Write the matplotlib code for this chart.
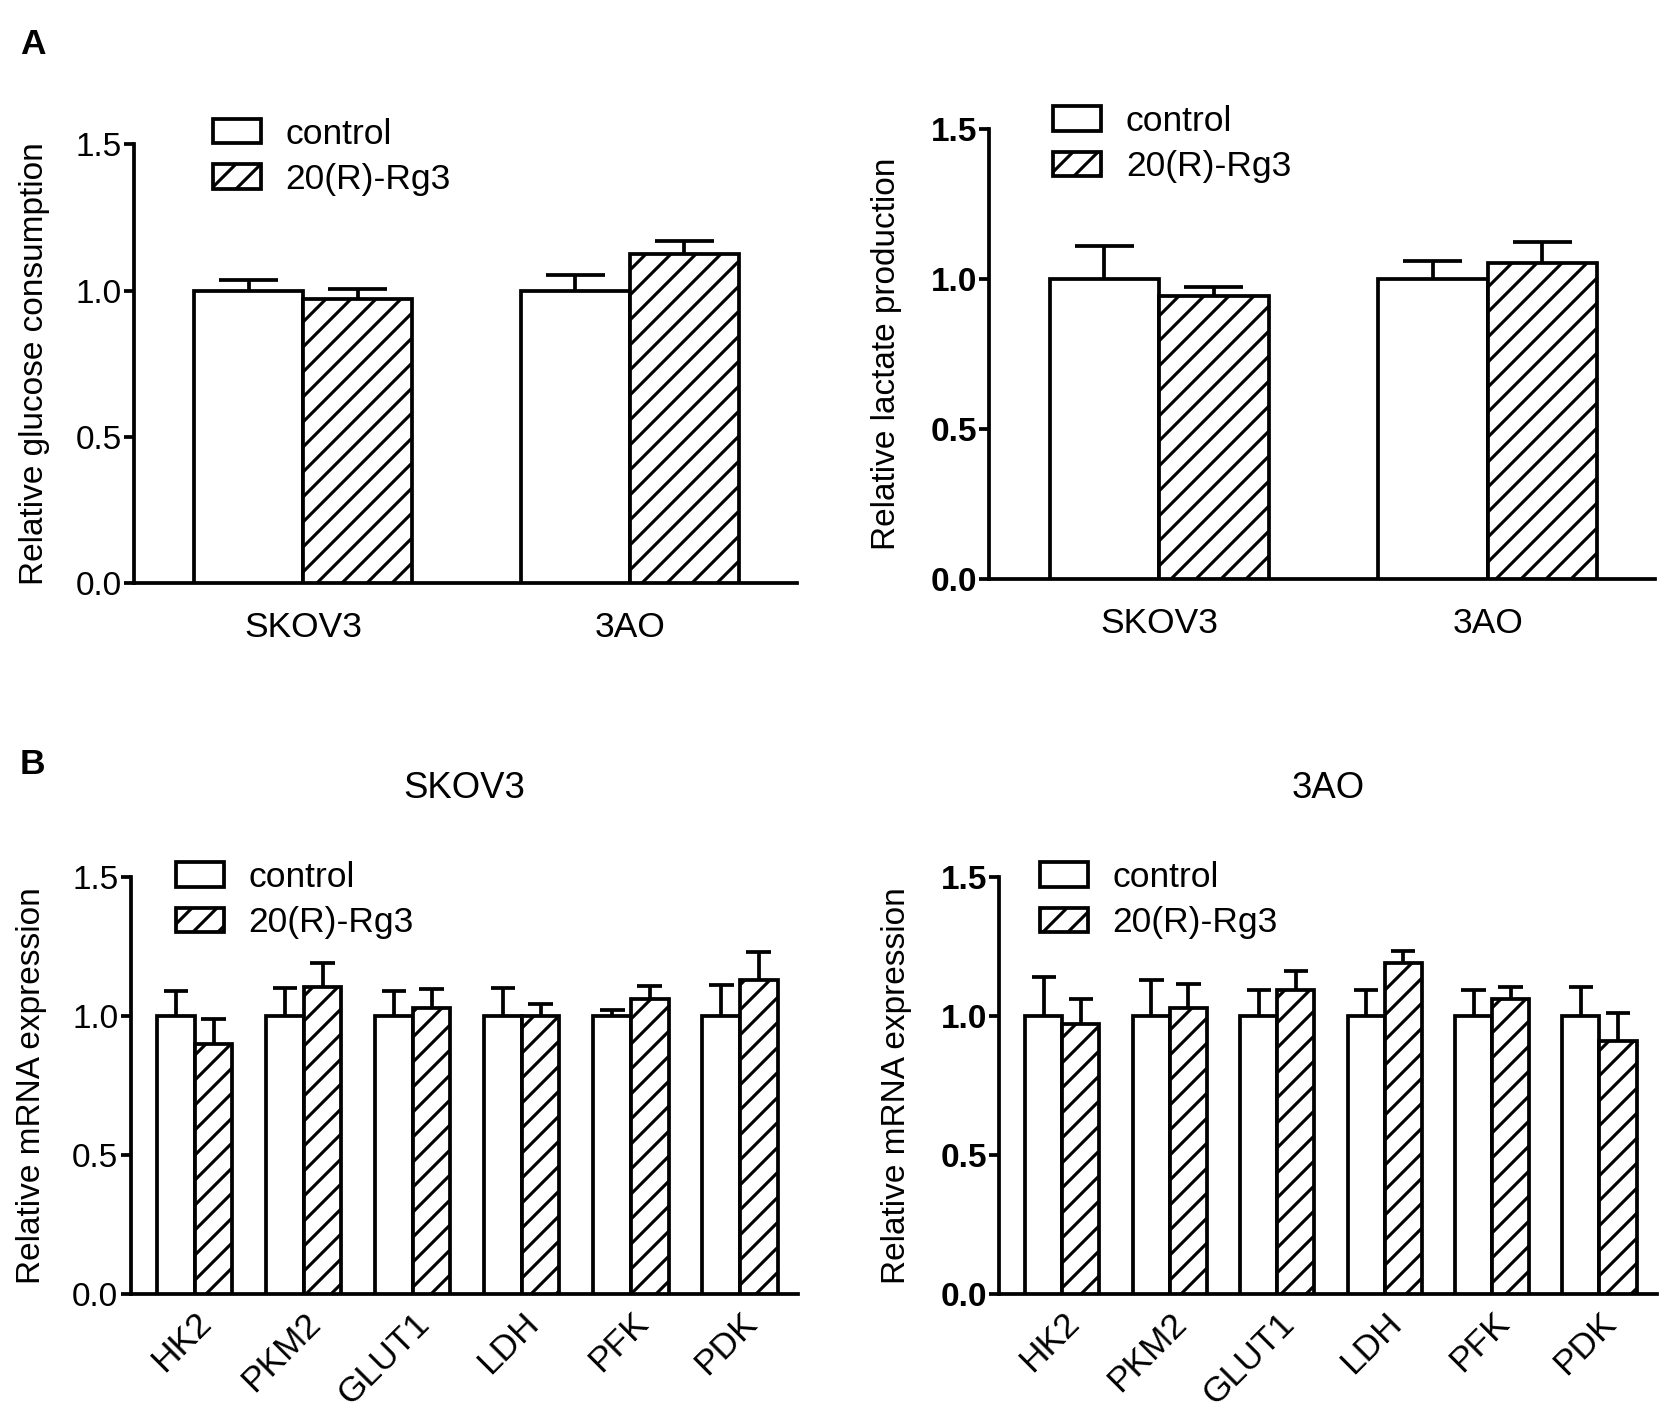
import numpy as np
import matplotlib
matplotlib.use('Agg')
import matplotlib.pyplot as plt

plt.rcParams['font.family'] = ['Liberation Sans', 'DejaVu Sans']
plt.rcParams['hatch.linewidth'] = 3.0
plt.rcParams['hatch.color'] = 'black'

# panel A data
cells = ['SKOV3', '3AO']
glucose_ctrl = [1.00, 1.00]
glucose_ctrl_err = [0.036, 0.054]
glucose_rg3 = [0.97, 1.125]
glucose_rg3_err = [0.034, 0.045]

lactate_ctrl = [1.00, 1.00]
lactate_ctrl_err = [0.11, 0.06]
lactate_rg3 = [0.945, 1.055]
lactate_rg3_err = [0.03, 0.07]

# panel B data
genes = ['HK2', 'PKM2', 'GLUT1', 'LDH', 'PFK', 'PDK']
skov3_ctrl = [1.0, 1.0, 1.0, 1.0, 1.0, 1.0]
skov3_ctrl_err = [0.09, 0.10, 0.09, 0.10, 0.02, 0.11]
skov3_rg3 = [0.90, 1.105, 1.03, 1.0, 1.06, 1.13]
skov3_rg3_err = [0.09, 0.087, 0.068, 0.042, 0.047, 0.10]

ao_ctrl = [1.0, 1.0, 1.0, 1.0, 1.0, 1.0]
ao_ctrl_err = [0.14, 0.13, 0.095, 0.095, 0.095, 0.105]
ao_rg3 = [0.97, 1.03, 1.095, 1.19, 1.06, 0.91]
ao_rg3_err = [0.09, 0.085, 0.068, 0.043, 0.045, 0.10]

LW = 3.6
FS = 31


def draw_panel(ax, cats, ctrl, ctrl_err, rg3, rg3_err, spacing, cap_half, xlim,
               ylabel, bold, rotate, legend_xy):
    x = np.arange(len(cats)) * spacing
    ax.bar(x - 0.5, ctrl, 1.0, color='white', edgecolor='black', lw=LW,
           label='control', zorder=3)
    ax.bar(x + 0.5, rg3, 1.0, color='white', edgecolor='black', lw=LW,
           hatch='/', label='20(R)-Rg3', zorder=3)
    for xs, vals, errs in [(x - 0.5, ctrl, ctrl_err), (x + 0.5, rg3, rg3_err)]:
        vals = np.asarray(vals)
        errs = np.asarray(errs)
        ax.vlines(xs, vals, vals + errs, color='black', lw=LW, zorder=2)
        ax.hlines(vals + errs, xs - cap_half, xs + cap_half, color='black',
                  lw=LW, zorder=2)

    ax.set_xlim(*xlim)
    ax.set_ylim(0, 1.5)
    ax.set_yticks([0.0, 0.5, 1.0, 1.5])
    ax.set_yticklabels(['0.0', '0.5', '1.0', '1.5'])
    ax.set_xticks(x)
    weight = 'bold' if bold else 'normal'
    for lab in ax.get_yticklabels():
        lab.set_fontweight(weight)
    if rotate:
        ax.set_xticklabels(cats, rotation=45, ha='right', va='top',
                           rotation_mode='anchor', fontsize=FS + 3)
        ax.tick_params(axis='x', length=0, pad=12)
    else:
        ax.set_xticklabels(cats, fontsize=FS + 3)
        ax.tick_params(axis='x', length=0, pad=27)
    ax.tick_params(axis='y', direction='out', length=10, width=LW,
                   labelsize=FS + 1, pad=2)
    for s in ['top', 'right']:
        ax.spines[s].set_visible(False)
    for s in ['left', 'bottom']:
        ax.spines[s].set_linewidth(LW)
    ax.set_ylabel(ylabel, fontsize=FS + 1, labelpad=24 if not bold else 27)
    ax.legend(loc='upper left', bbox_to_anchor=legend_xy,
              bbox_transform=ax.figure.transFigure, frameon=False,
              fontsize=FS + 3, handlelength=1.35, handleheight=0.68,
              handletextpad=0.7, labelspacing=0.35, borderpad=0,
              borderaxespad=0)


fig = plt.figure(figsize=(1677 / 75, 1416 / 75), dpi=75)

ax1 = fig.add_axes([0.080, 0.5884, 0.395, 0.3096])
draw_panel(ax1, cells, glucose_ctrl, glucose_ctrl_err, glucose_rg3,
           glucose_rg3_err, 3.0, 0.27, (-1.55, 4.53),
           'Relative glucose consumption', False, False, (0.127, 0.917))

ax2 = fig.add_axes([0.590, 0.5914, 0.397, 0.3172])
draw_panel(ax2, cells, lactate_ctrl, lactate_ctrl_err, lactate_rg3,
           lactate_rg3_err, 3.0, 0.27, (-1.55, 4.53),
           'Relative lactate production', True, False, (0.628, 0.926))

ax3 = fig.add_axes([0.078, 0.0861, 0.398, 0.2946])
draw_panel(ax3, genes, skov3_ctrl, skov3_ctrl_err, skov3_rg3, skov3_rg3_err,
           2.9, 0.33, (-1.7, 16.05), 'Relative mRNA expression', False, True,
           (0.105, 0.392))
ax3.set_title('SKOV3', fontsize=FS + 4, pad=76)

ax4 = fig.add_axes([0.596, 0.0861, 0.392, 0.2946])
draw_panel(ax4, genes, ao_ctrl, ao_ctrl_err, ao_rg3, ao_rg3_err,
           2.9, 0.33, (-1.7, 16.05), 'Relative mRNA expression', True, True,
           (0.620, 0.392))
ax4.set_title('3AO', fontsize=FS + 4, pad=76)

fig.text(0.012, 0.980, 'A', fontsize=FS + 3, fontweight='bold', va='top')
fig.text(0.012, 0.472, 'B', fontsize=FS + 3, fontweight='bold', va='top')

fig.savefig('out.png', dpi=75)
